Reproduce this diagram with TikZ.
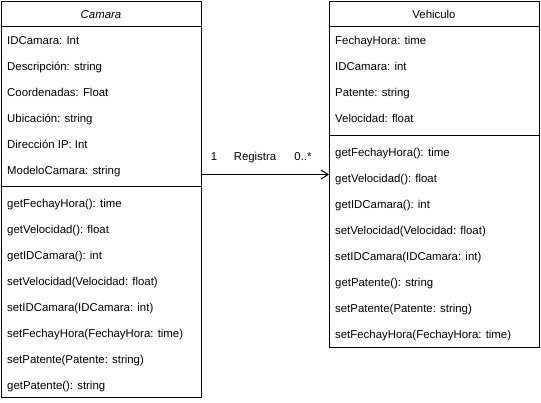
\documentclass[tikz,border=0pt]{standalone}
\usepackage{fontspec}
\setmainfont{Liberation Sans}
\usetikzlibrary{arrows.meta,positioning}

\begin{document}
\begin{tikzpicture}[x=1pt,y=-1pt]
  \tikzstyle{classbox}=[draw,line width=1pt,inner sep=0pt,anchor=north west]
  \tikzstyle{every node}=[font=\fontsize{11.4}{13}\selectfont,text height=8pt,text depth=0pt]
  \tikzstyle{row}=[inner sep=0pt,anchor=west]
  \tikzstyle{assoc}=[line width=1pt,-{Straight Barb[length=7pt,width=9pt,line width=1pt]}]
  \useasboundingbox (0,0) rectangle (541,402);
  % Camara
  \node[classbox,minimum width=200pt,minimum height=396pt] (camara) at (1,1) {};
  \node (camtitle) at (101,14) {\itshape Camara};
  \draw[line width=1pt] ([yshift=-25pt]camara.north west) -- ([yshift=-25pt]camara.north east);
  \draw[line width=1pt] ([yshift=-185pt]camara.north west) -- ([yshift=-185pt]camara.north east);
  \foreach \t [count=\i] in {IDCamara: Int,Descripción: string,Coordenadas: Float,
      Ubicación: string,Dirección IP: Int,ModeloCamara: string}
    \node[row] (camattr\i) at (7,14+26*\i) {\t};
  \foreach \t [count=\i] in {getFechayHora(): time,getVelocidad(): float,getIDCamara(): int,
      setVelocidad(Velocidad: float),setIDCamara(IDCamara: int),
      setFechayHora(FechayHora: time),setPatente(Patente: string),getPatente(): string}
    \node[row] (cammeth\i) at (7,177+26*\i) {\t};
  % Vehiculo
  \node[classbox,minimum width=210pt,minimum height=346pt] (vehiculo) at (329,1) {};
  \node (vehtitle) at (434,14) {Vehiculo};
  \draw[line width=1pt] ([yshift=-25pt]vehiculo.north west) -- ([yshift=-25pt]vehiculo.north east);
  \draw[line width=1pt] ([yshift=-134pt]vehiculo.north west) -- ([yshift=-134pt]vehiculo.north east);
  \foreach \t [count=\i] in {FechayHora: time,IDCamara: int,Patente: string,Velocidad: float}
    \node[row] (vehattr\i) at (335,14+26*\i) {\t};
  \foreach \t [count=\i] in {getFechayHora(): time,getVelocidad(): float,getIDCamara(): int,
      setVelocidad(Velocidad: float),setIDCamara(IDCamara: int),getPatente(): string,
      setPatente(Patente: string),setFechayHora(FechayHora: time)}
    \node[row] (vehmeth\i) at (335,126+26*\i) {\t};
  % association
  \draw[assoc] (vehiculo.west -| camara.east) -- (vehiculo.west);
  \node (multone) at (214,156) {1};
  \node (assoclabel) at (255,156) {Registra};
  \node (multmany) at (303,156) {0..*};
\end{tikzpicture}
\end{document}
